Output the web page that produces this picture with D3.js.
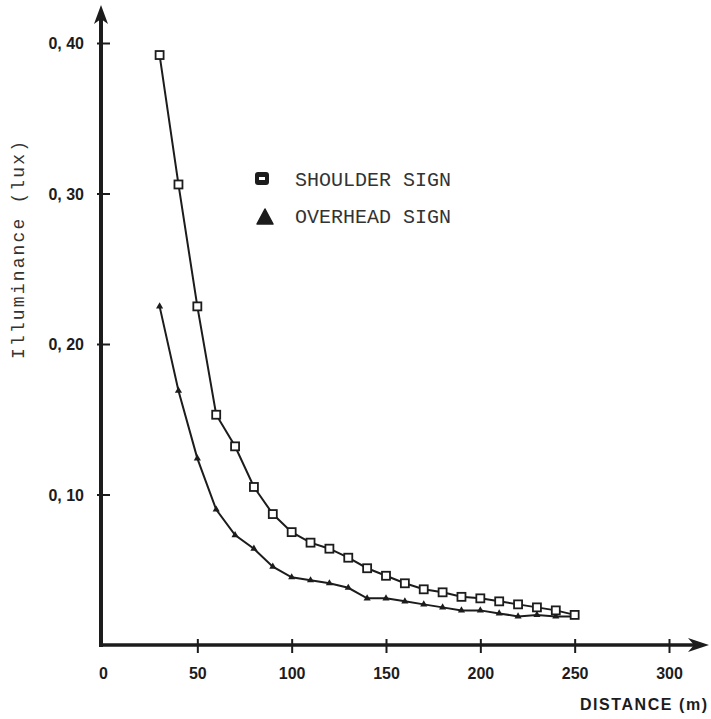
<!DOCTYPE html>
<html>
<head>
<meta charset="utf-8">
<script src="https://cdn.jsdelivr.net/npm/d3@7"></script>
<style>
  html, body { margin: 0; padding: 0; background: #fff; }
  svg { display: block; }
</style>
</head>
<body>
<div id="chart"></div>
<script>
const distances = [30, 40, 50, 60, 70, 80, 90, 100, 110, 120, 130, 140, 150, 160, 170, 180, 190, 200, 210, 220, 230, 240, 250];
const shoulderSign = [0.392, 0.306, 0.225, 0.153, 0.132, 0.105, 0.087, 0.075, 0.068, 0.064, 0.058, 0.051, 0.046, 0.041, 0.037, 0.035, 0.032, 0.031, 0.029, 0.027, 0.025, 0.023, 0.020];
const overheadSign = [0.225, 0.169, 0.124, 0.090, 0.073, 0.064, 0.052, 0.045, 0.043, 0.041, 0.038, 0.031, 0.031, 0.029, 0.027, 0.025, 0.023, 0.023, 0.021, 0.019, 0.020, 0.019, 0.019];
const xTicks = [0, 50, 100, 150, 200, 250, 300];
const yTicks = [0.10, 0.20, 0.30, 0.40];
const yTickLabels = ["0, 10", "0, 20", "0, 30", "0, 40"];
const seriesNames = ["SHOULDER SIGN", "OVERHEAD SIGN"];
const xTitle = "DISTANCE (m)";
const yTitle = "Illuminance (lux)";

const W = 711, H = 719;
const ink = "#1c1c1c";
const svg = d3.select("#chart").append("svg").attr("width", W).attr("height", H);

const x = d3.scaleLinear().domain([0, 300]).range([103, 669]);
const y = d3.scaleLinear().domain([0, 0.40]).range([645, 43]);
const x0 = 101, y0 = 645;

// axes lines with arrowheads
svg.append("line").attr("x1", x0).attr("y1", y0 + 2).attr("x2", x0).attr("y2", 14)
  .attr("stroke", ink).attr("stroke-width", 4);
svg.append("path").attr("d", `M${x0},5 L${x0 - 7},24 L${x0},19 L${x0 + 7},24 Z`).attr("fill", ink);
svg.append("line").attr("x1", x0 - 2).attr("y1", y0).attr("x2", 700).attr("y2", y0)
  .attr("stroke", ink).attr("stroke-width", 3.5);
svg.append("path").attr("d", `M709,${y0} L688,${y0 - 7} L694,${y0} L688,${y0 + 7} Z`).attr("fill", ink);

// x axis ticks and labels
const xAxis = svg.append("g").attr("transform", `translate(0,${y0})`)
  .call(d3.axisBottom(x).tickValues(xTicks).tickSize(0).tickFormat(d => d));
xAxis.select(".domain").remove();
xAxis.selectAll(".tick").filter(d => d > 0).append("line")
  .attr("y1", -6).attr("y2", 8).attr("stroke", ink).attr("stroke-width", 2);
xAxis.selectAll(".tick text")
  .attr("y", 34).attr("dy", 0)
  .attr("font-family", "Liberation Sans, Arial, sans-serif")
  .attr("font-weight", "bold").attr("font-size", 16).attr("fill", ink);

// y axis ticks and labels
const yAxis = svg.append("g").attr("transform", `translate(${x0},0)`)
  .call(d3.axisLeft(y).tickValues(yTicks).tickSize(0).tickFormat((d, i) => yTickLabels[i]));
yAxis.select(".domain").remove();
yAxis.selectAll(".tick").append("line")
  .attr("x1", -4).attr("x2", 9).attr("stroke", ink).attr("stroke-width", 2);
yAxis.selectAll(".tick text")
  .attr("x", -17).attr("dy", "0.35em")
  .attr("font-family", "Liberation Sans, Arial, sans-serif")
  .attr("font-weight", "bold").attr("font-size", 16).attr("fill", ink);

// titles
svg.append("text").attr("x", 580).attr("y", 710)
  .attr("font-family", "Liberation Sans, Arial, sans-serif").attr("font-weight", "bold")
  .attr("font-size", 16).attr("fill", ink)
  .attr("textLength", 127).attr("lengthAdjust", "spacing")
  .text(xTitle);
svg.append("text").attr("transform", "translate(24,250) rotate(-90)")
  .attr("text-anchor", "middle")
  .attr("font-family", "Liberation Mono, Courier New, monospace")
  .attr("font-size", 18).attr("fill", "#333")
  .attr("textLength", 218).attr("lengthAdjust", "spacing")
  .text(yTitle);

// series
const line = d3.line().x(d => x(d[0])).y(d => y(d[1]));
const sData = distances.map((d, i) => [d, shoulderSign[i]]);
const oData = distances.map((d, i) => [d, overheadSign[i]]);

svg.append("path").datum(oData).attr("d", line)
  .attr("fill", "none").attr("stroke", ink).attr("stroke-width", 2);
svg.append("path").datum(sData).attr("d", line)
  .attr("fill", "none").attr("stroke", ink).attr("stroke-width", 2);

svg.selectAll(".tri").data(oData).enter().append("path")
  .attr("class", "tri")
  .attr("transform", d => `translate(${x(d[0])},${y(d[1])})`)
  .attr("d", d3.symbol().type(d3.symbolTriangle).size(22))
  .attr("fill", ink);

svg.selectAll(".sq").data(sData).enter().append("rect")
  .attr("class", "sq")
  .attr("x", d => x(d[0]) - 4).attr("y", d => y(d[1]) - 4)
  .attr("width", 8).attr("height", 8)
  .attr("fill", "#fff").attr("stroke", ink).attr("stroke-width", 1.8);

// legend
svg.append("rect").attr("x", 255).attr("y", 172).attr("width", 14).attr("height", 13)
  .attr("rx", 3).attr("fill", ink);
svg.append("rect").attr("x", 259).attr("y", 177).attr("width", 6).attr("height", 3)
  .attr("fill", "#fff");
svg.append("path").attr("d", "M265,209 L273,224 L257,224 Z").attr("fill", ink)
  .attr("stroke", ink).attr("stroke-width", 1.5).attr("stroke-linejoin", "round");

svg.selectAll(".leg").data(seriesNames).enter().append("text")
  .attr("class", "leg")
  .attr("x", 295).attr("y", (d, i) => 186 + i * 37)
  .attr("font-family", "Liberation Mono, Courier New, monospace")
  .attr("font-size", 20).attr("fill", "#333")
  .text(d => d);
</script>
</body>
</html>
